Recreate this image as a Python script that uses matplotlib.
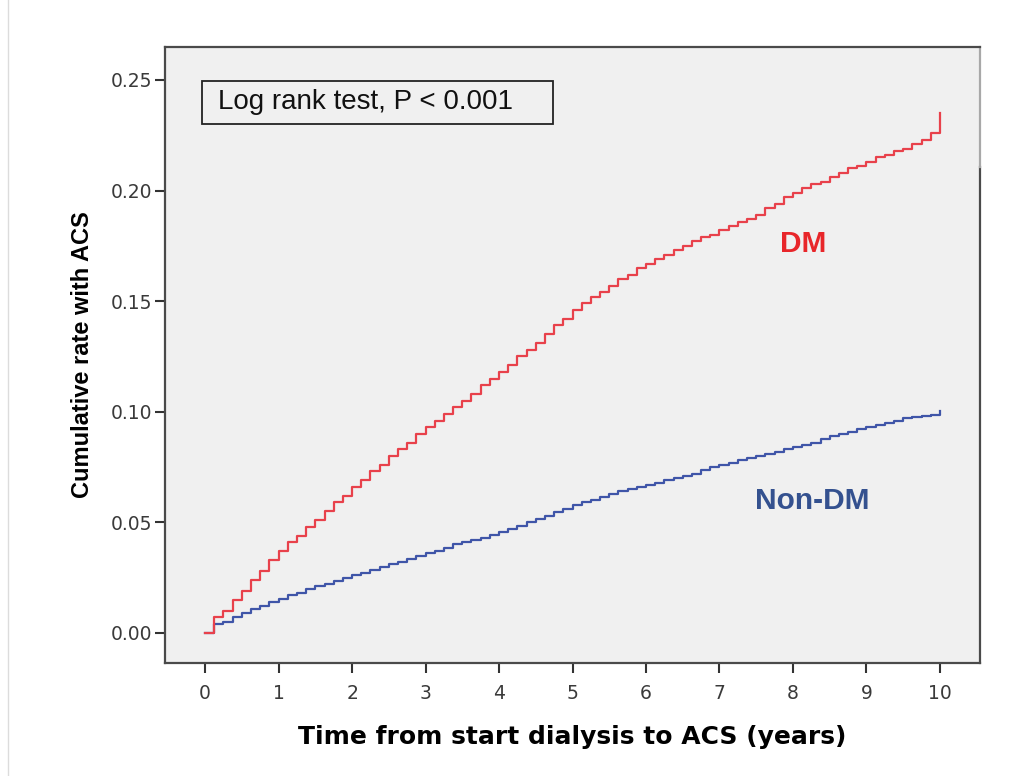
import numpy as np
import matplotlib
matplotlib.use("Agg")
import matplotlib.pyplot as plt
from matplotlib.patches import Rectangle
from matplotlib.lines import Line2D

# event times (years), one step every 1/8 year
step_times = np.arange(0.125, 10.001, 0.125)

dm_rate = [0.007, 0.010, 0.015, 0.019, 0.024, 0.028, 0.033, 0.037,
           0.041, 0.044, 0.048, 0.051, 0.055, 0.059, 0.062, 0.066,
           0.069, 0.073, 0.076, 0.080, 0.083, 0.086, 0.090, 0.093,
           0.096, 0.099, 0.102, 0.105, 0.108, 0.112, 0.115, 0.118,
           0.121, 0.125, 0.128, 0.131, 0.135, 0.139, 0.142, 0.146,
           0.149, 0.152, 0.154, 0.157, 0.160, 0.162, 0.165, 0.167,
           0.169, 0.171, 0.173, 0.175, 0.177, 0.179, 0.180, 0.182,
           0.184, 0.186, 0.187, 0.189, 0.192, 0.194, 0.197, 0.199,
           0.201, 0.203, 0.204, 0.206, 0.208, 0.210, 0.211, 0.213,
           0.215, 0.216, 0.218, 0.219, 0.221, 0.223, 0.226, 0.235]

nondm_rate = [0.004, 0.005, 0.007, 0.009, 0.011, 0.012, 0.014, 0.0155,
              0.017, 0.018, 0.020, 0.021, 0.022, 0.0235, 0.025, 0.026,
              0.027, 0.0285, 0.030, 0.031, 0.032, 0.0335, 0.035, 0.036,
              0.037, 0.0385, 0.040, 0.041, 0.042, 0.043, 0.0445, 0.0457,
              0.047, 0.0485, 0.050, 0.0515, 0.053, 0.0545, 0.056, 0.058,
              0.059, 0.060, 0.0615, 0.063, 0.064, 0.065, 0.066, 0.067,
              0.068, 0.069, 0.070, 0.071, 0.072, 0.0735, 0.075, 0.076,
              0.077, 0.078, 0.079, 0.080, 0.081, 0.082, 0.083, 0.084,
              0.085, 0.086, 0.0875, 0.089, 0.090, 0.091, 0.092, 0.093,
              0.094, 0.095, 0.096, 0.097, 0.0975, 0.098, 0.0986, 0.1004]

x_ticks = list(range(0, 11))
y_ticks = [0.00, 0.05, 0.10, 0.15, 0.20, 0.25]

fig = plt.figure(figsize=(10.19, 7.76), dpi=100)
ax = fig.add_axes([0.162, 0.1456, 0.7997, 0.7938])
ax.set_facecolor("#f0f0f0")

t = np.concatenate([[0.0], step_times])
ax.step(t, np.concatenate([[0.0], nondm_rate]), where="post",
        color="#3f55a8", lw=1.6)
ax.step(t, np.concatenate([[0.0], dm_rate]), where="post",
        color="#e8414b", lw=1.6)

ax.set_xlim(-0.545, 10.545)
ax.set_ylim(-0.0136, 0.2649)
ax.set_xticks(x_ticks)
ax.set_xticklabels([str(v) for v in x_ticks])
ax.set_yticks(y_ticks)
ax.set_yticklabels(["%.2f" % v for v in y_ticks])

lab_font = "Liberation Sans"
ax.tick_params(axis="both", direction="out", width=1.5, color="#333333",
               labelcolor="#3a3a3a", labelsize=13.5)
ax.tick_params(axis="y", length=7, pad=2)
ax.tick_params(axis="x", length=7, pad=8)
for lab in ax.get_xticklabels() + ax.get_yticklabels():
    lab.set_family("DejaVu Sans")

for s in ["left", "bottom", "top"]:
    ax.spines[s].set_color("#4a4a4a")
    ax.spines[s].set_linewidth(1.6)
ax.spines["right"].set_visible(False)
# right frame: light at the top, dark below
ax.add_line(Line2D([1, 1], [0, 0.805], transform=ax.transAxes,
                   color="#4a4a4a", lw=1.6, clip_on=False))
ax.add_line(Line2D([1, 1], [0.805, 1], transform=ax.transAxes,
                   color="#a8a8a8", lw=1.6, clip_on=False))

ax.set_ylabel("Cumulative rate with ACS", family=lab_font,
              fontweight="bold", fontsize=17, labelpad=12)
ax.set_xlabel("Time from start dialysis to ACS (years)", family="DejaVu Sans",
              fontweight="bold", fontsize=18, labelpad=16)

# log rank box
ax.add_patch(Rectangle((-0.04, 0.2302), 4.77, 0.0194, facecolor="#f0f0f0",
                       edgecolor="#222222", lw=1.3, zorder=3))
ax.text(0.18, 0.2399, "Log rank test, P < 0.001", family=lab_font,
        fontsize=20, color="#111111", va="center", ha="left", zorder=4)

ax.text(8.14, 0.176, "DM", family=lab_font, fontweight="bold",
        fontsize=21.5, color="#e8262a", ha="center", va="center")
ax.text(8.26, 0.0595, "Non-DM", family=lab_font, fontweight="bold",
        fontsize=21.5, color="#34518f", ha="center", va="center")

# faint line at the left edge of the picture
fig.add_artist(Line2D([0.008, 0.008], [0, 1], transform=fig.transFigure,
                      color="#dcdcdc", lw=1))

fig.savefig("out.png", dpi=100)
